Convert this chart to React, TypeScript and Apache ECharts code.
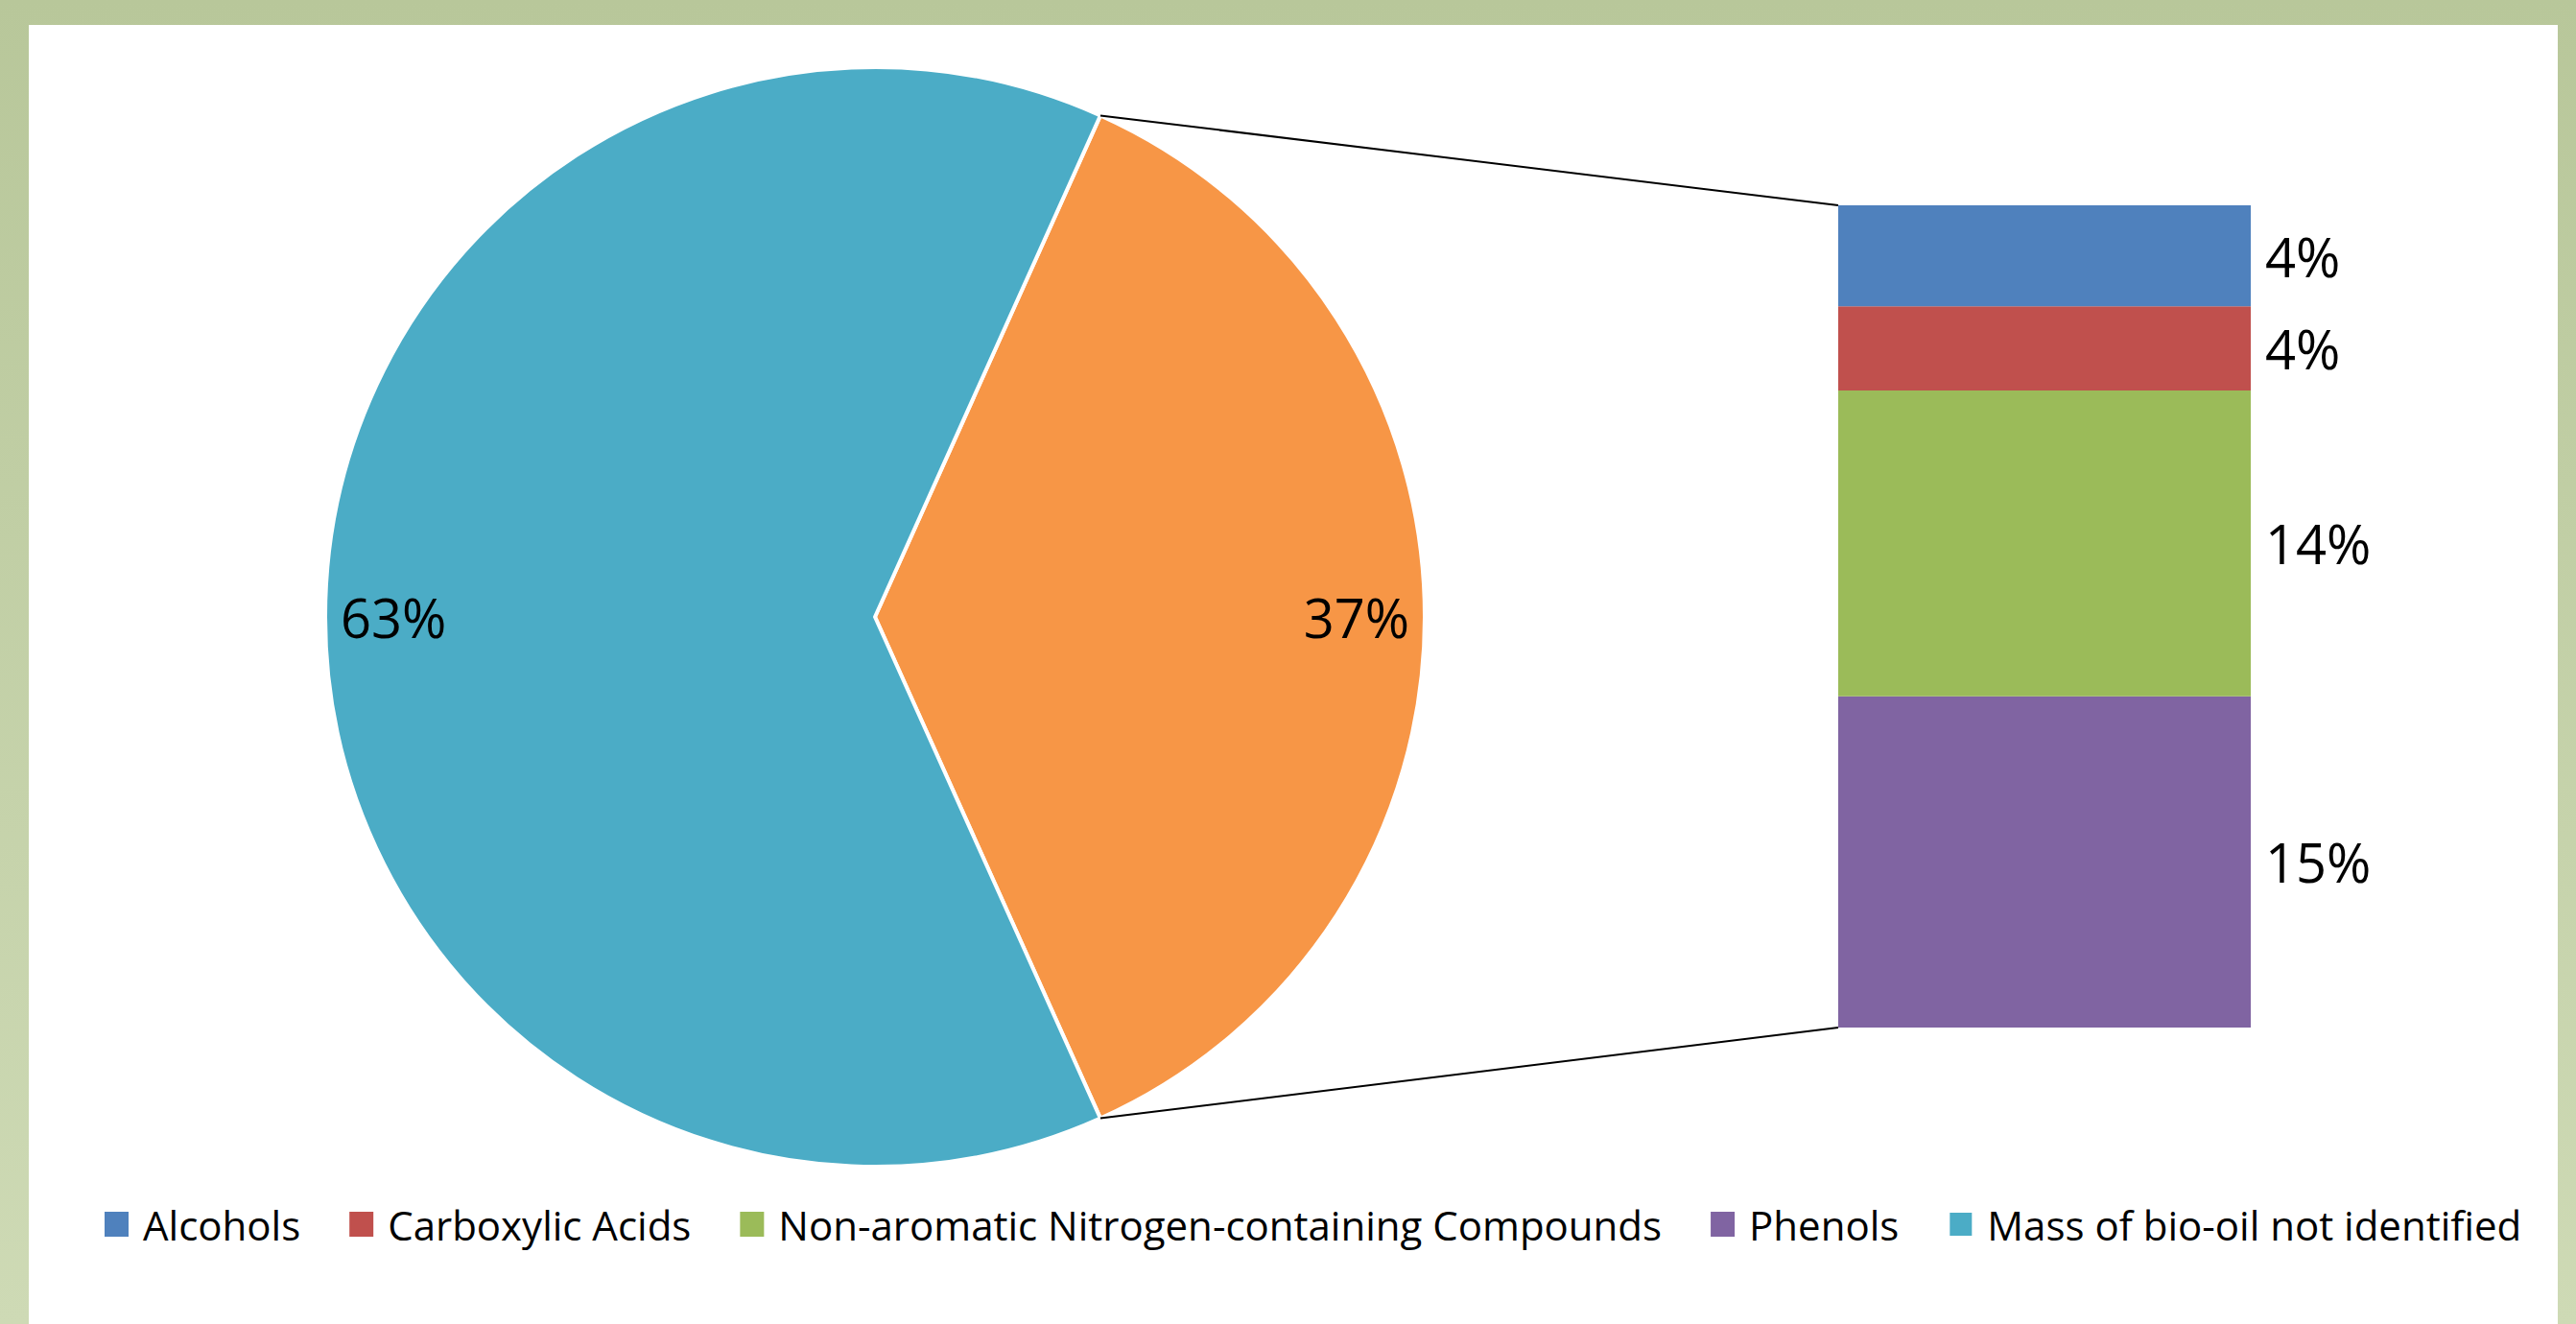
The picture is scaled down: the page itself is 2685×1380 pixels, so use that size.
import React, { useEffect, useRef } from 'react';
import * as echarts from 'echarts';

// ---- data ----
const barCategories = [
  'Alcohols',
  'Carboxylic Acids',
  'Non-aromatic Nitrogen-containing Compounds',
  'Phenols',
];
const barValues = [4.49, 3.74, 13.6, 14.72];
const barColors = ['#4F81BD', '#C0504D', '#9BBB59', '#8064A2'];

const pieMainName = 'Mass of bio-oil not identified';
const pieMainValue = 63.45;
const pieMainColor = '#4BACC6';
const pieOtherName = 'Other';
const pieOtherColor = '#F79646';

const legendOrder = [...barCategories, pieMainName];

// ---- layout ----
const W = 2685;
const H = 1380;
const PIE_CX = 912;
const PIE_CY = 643;
const PIE_R = 573;
const BAR_LEFT = 1916;
const BAR_TOP = 214;
const BAR_W = 430;
const BAR_H = 857;
const FONT = "'Open Sans', 'Noto Sans', sans-serif";

const pct = (v: number) => Math.round(v) + '%';

export default function App() {
  const ref = useRef<HTMLDivElement>(null);

  useEffect(() => {
    document.body.style.margin = '0';
    const chart = echarts.init(ref.current!, null, { renderer: 'svg' });
    const otherValue = barValues.reduce((a, b) => a + b, 0);

    const bgRect = {
      type: 'rect',
      z: -10,
      silent: true,
      shape: { x: 30, y: 26, width: 2636, height: H - 26 },
      style: { fill: '#FFFFFF' },
    };

    // stack from bottom: reverse order
    const order = [3, 2, 1, 0];
    const barSeries = order.map((i) => ({
      type: 'bar',
      name: barCategories[i],
      stack: 'other',
      barWidth: '100%',
      xAxisIndex: 0,
      yAxisIndex: 0,
      data: [barValues[i]],
      itemStyle: { color: barColors[i] },
      label: {
        show: true,
        position: 'right',
        distance: 15,
        formatter: (p: any) => pct(p.value),
        fontFamily: FONT,
        fontSize: 56,
        color: '#000',
      },
    }));

    const option: any = {
      animation: false,
      backgroundColor: {
        type: 'linear',
        x: 0,
        y: 0,
        x2: 0,
        y2: 1,
        colorStops: [
          { offset: 0, color: '#B8C79A' },
          { offset: 1, color: '#CEDAB5' },
        ],
      },
      graphic: [bgRect],
      legend: {
        data: legendOrder,
        left: 104,
        top: 1250,
        orient: 'horizontal',
        icon: 'rect',
        itemWidth: 25,
        itemHeight: 26,
        itemGap: 51,
        itemTextGap: 22,
        selectedMode: false,
        textStyle: {
          fontFamily: FONT,
          fontSize: 42,
          color: '#000',
          padding: [0, 0, 0, 10],
        },
      },
      grid: { left: BAR_LEFT, top: BAR_TOP, width: BAR_W, height: BAR_H },
      xAxis: {
        type: 'category',
        data: [''],
        show: false,
        boundaryGap: true,
      },
      yAxis: {
        type: 'value',
        min: 0,
        max: otherValue,
        show: false,
      },
      series: [
        {
          type: 'pie',
          center: [PIE_CX, PIE_CY],
          radius: [0, PIE_R],
          startAngle: (otherValue / (otherValue + pieMainValue)) * 180,
          clockwise: true,
          avoidLabelOverlap: false,
          itemStyle: { borderColor: '#FFFFFF', borderWidth: 4 },
          label: {
            show: true,
            position: 'inside',
            formatter: (p: any) => pct(p.value),
            fontFamily: FONT,
            fontSize: 56,
            color: '#000',
          },
          labelLine: { show: false },
          labelLayout: (p: any) => {
            const r = p.labelRect;
            const cx = r.x + r.width / 2;
            const cy = r.y + r.height / 2;
            const vx = cx - PIE_CX;
            const vy = cy - PIE_CY;
            const len = Math.sqrt(vx * vx + vy * vy) || 1;
            const target = 0.876 * PIE_R;
            return { dx: (vx / len) * target - vx, dy: (vy / len) * target - vy };
          },
          data: [
            { name: pieOtherName, value: otherValue, itemStyle: { color: pieOtherColor } },
            { name: pieMainName, value: pieMainValue, itemStyle: { color: pieMainColor } },
          ],
        },
        ...barSeries,
      ],
    };

    chart.setOption(option);

    const yTop = chart.convertToPixel({ yAxisIndex: 0 }, otherValue) as number;
    const yBot = chart.convertToPixel({ yAxisIndex: 0 }, 0) as number;
    const half = (otherValue / (otherValue + pieMainValue)) * Math.PI;
    const ex = PIE_CX + PIE_R * Math.cos(half);
    const eyTop = PIE_CY - PIE_R * Math.sin(half);
    const eyBot = PIE_CY + PIE_R * Math.sin(half);

    chart.setOption({
      graphic: [
        bgRect,
        {
          type: 'line',
          z: 10,
          silent: true,
          shape: { x1: ex, y1: eyTop, x2: BAR_LEFT, y2: yTop },
          style: { stroke: '#000', lineWidth: 2 },
        },
        {
          type: 'line',
          z: 10,
          silent: true,
          shape: { x1: ex, y1: eyBot, x2: BAR_LEFT, y2: yBot },
          style: { stroke: '#000', lineWidth: 2 },
        },
      ],
    });

    return () => chart.dispose();
  }, []);

  return (
    <div
      ref={ref}
      style={{ position: 'absolute', left: 0, top: 0, width: W, height: H }}
    />
  );
}
